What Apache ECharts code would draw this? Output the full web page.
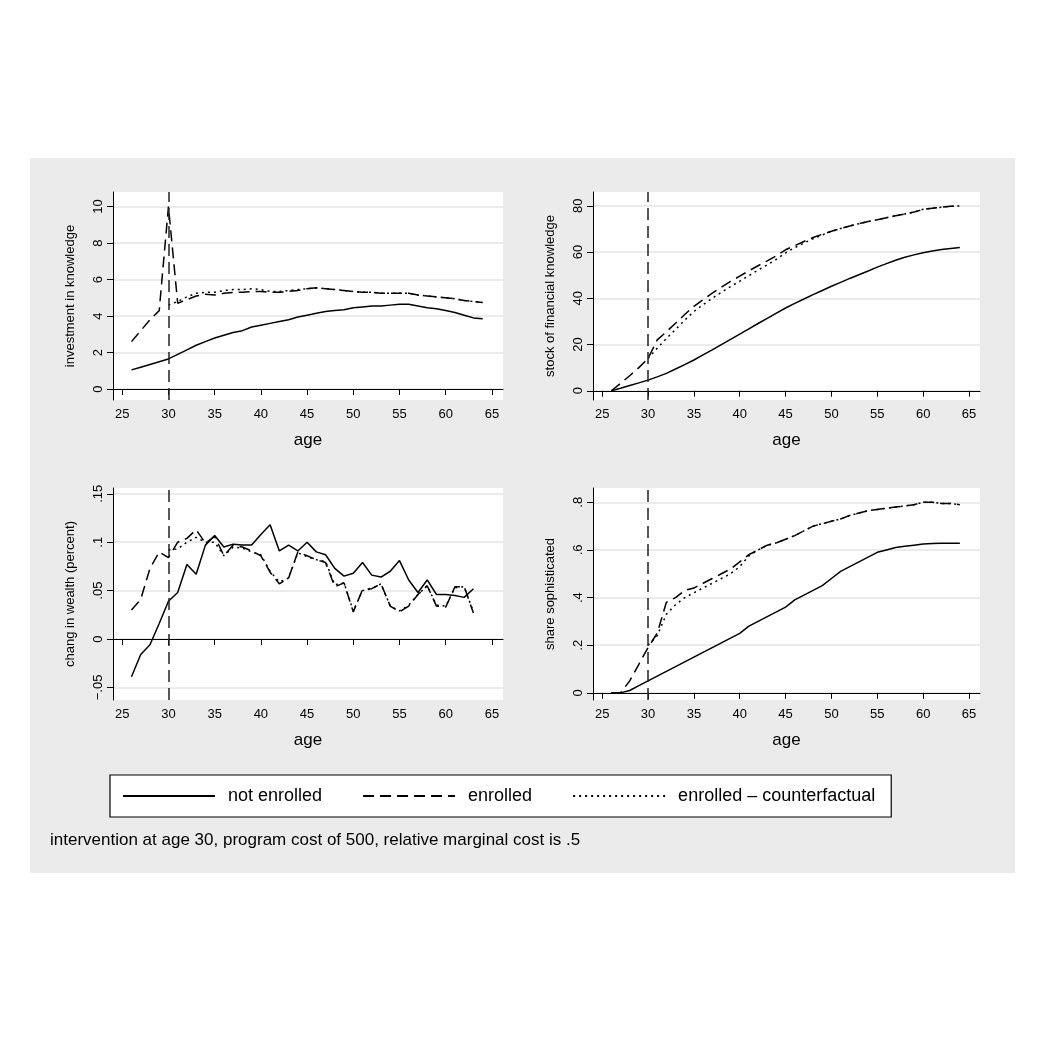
<!DOCTYPE html>
<html>
<head>
<meta charset="utf-8">
<script src="https://cdn.jsdelivr.net/npm/echarts@6/dist/echarts.min.js"></script>
<style>
html,body{margin:0;padding:0;background:#fff;}
#chart{width:1040px;height:1040px;}
</style>
</head>
<body>
<div id="chart"></div>
<script>
// ages
var ages = [];
for (var a = 26; a <= 64; a++) ages.push(a);
var ages3 = ages.slice(0, 38); // 26..63

// investment in knowledge
var invNot = [1.05,1.2,1.35,1.5,1.65,1.9,2.15,2.4,2.6,2.8,2.95,3.1,3.2,3.4,3.5,3.6,3.7,3.8,3.95,4.05,4.15,4.25,4.3,4.35,4.45,4.5,4.55,4.55,4.6,4.65,4.65,4.55,4.45,4.4,4.3,4.2,4.05,3.9,3.85];
var invEnr = [2.6,3.2,3.8,4.3,10,4.7,4.9,5.1,5.2,5.15,5.25,5.3,5.3,5.35,5.35,5.3,5.3,5.35,5.4,5.5,5.55,5.5,5.45,5.4,5.35,5.3,5.3,5.25,5.25,5.25,5.25,5.15,5.1,5.05,5.0,4.95,4.85,4.8,4.75];
var invCf  = [null,null,null,null,4.6,4.8,5.05,5.25,5.3,5.3,5.4,5.45,5.45,5.5,5.45,5.35,5.35,5.4,5.45,5.5,5.55,5.5,5.45,5.4,5.35,5.3,5.3,5.25,5.25,5.25,5.25,5.15,5.1,5.05,5.0,4.95,4.85,4.8,4.75];

// stock of financial knowledge
var stkNot = [0,1.1,2.3,3.4,4.6,6.0,7.5,9.4,11.3,13.3,15.5,17.7,20.0,22.2,24.5,26.8,29.1,31.3,33.6,35.8,37.8,39.7,41.6,43.4,45.2,46.9,48.6,50.2,51.8,53.5,55.0,56.5,57.8,58.8,59.7,60.5,61.1,61.6,62.0];
var stkEnr = [0,3.2,6.5,10.0,14.0,22.0,25.5,29.2,33.0,36.5,39.4,42.2,44.8,47.3,49.6,51.9,54.1,56.2,58.4,61.0,62.8,64.6,66.3,67.7,69.0,70.2,71.3,72.3,73.2,74.0,74.9,75.7,76.5,77.3,78.5,79.0,79.4,79.8,80.0];
var stkCf  = [null,null,null,null,14.0,18.4,22.6,26.5,30.5,34.3,37.2,40.0,42.6,45.1,47.4,49.8,52.2,54.5,56.9,59.7,61.9,63.9,65.8,67.4,69.0,70.2,71.3,72.3,73.2,74.0,74.9,75.7,76.5,77.3,78.5,79.0,79.4,79.8,80.0];

// change in wealth (ages 26..63)
var wNot = [-0.039,-0.016,-0.006,0.016,0.039,0.048,0.077,0.067,0.097,0.107,0.095,0.098,0.097,0.097,0.108,0.118,0.091,0.097,0.091,0.1,0.09,0.087,0.073,0.065,0.068,0.079,0.066,0.064,0.07,0.081,0.061,0.048,0.061,0.046,0.046,0.045,0.043,0.052];
var wEnr = [0.03,0.041,0.073,0.09,0.084,0.1,0.104,0.113,0.099,0.106,0.086,0.097,0.095,0.091,0.086,0.069,0.057,0.063,0.09,0.086,0.082,0.079,0.054,0.058,0.028,0.051,0.052,0.057,0.034,0.028,0.034,0.046,0.055,0.034,0.033,0.054,0.054,0.027];
var wCf  = [null,null,null,null,0.092,0.093,0.1,0.105,0.1,0.1,0.086,0.095,0.094,0.09,0.087,0.07,0.059,0.063,0.089,0.085,0.082,0.08,0.056,0.058,0.029,0.05,0.052,0.057,0.034,0.029,0.035,0.046,0.055,0.035,0.034,0.053,0.054,0.028];

// share sophisticated
var shNot = [0,0,0.01,0.03,0.05,0.07,0.09,0.11,0.13,0.15,0.17,0.19,0.21,0.23,0.25,0.28,0.3,0.32,0.34,0.36,0.39,0.41,0.43,0.45,0.48,0.51,0.53,0.55,0.57,0.59,0.6,0.61,0.615,0.62,0.625,0.627,0.628,0.628,0.628];
var shEnr = [0,0,0.05,0.12,0.19,0.25,0.38,0.4,0.43,0.44,0.46,0.48,0.5,0.52,0.55,0.58,0.6,0.62,0.63,0.645,0.66,0.68,0.7,0.71,0.72,0.73,0.745,0.755,0.765,0.77,0.775,0.78,0.785,0.79,0.8,0.8,0.795,0.795,0.79];
var shCf  = [null,null,null,null,0.2,0.24,0.33,0.37,0.4,0.42,0.44,0.46,0.48,0.5,0.53,0.575,0.6,0.62,0.63,0.645,0.66,0.68,0.7,0.71,0.72,0.73,0.745,0.755,0.765,0.77,0.775,0.78,0.785,0.79,0.8,0.8,0.795,0.795,0.79];

var xTicks = [25,30,35,40,45,50,55,60,65];
var fam = 'Liberation Sans, Arial, sans-serif';

var grids = [
  {left:113, top:192, width:390, height:208},
  {left:593, top:192, width:387, height:208},
  {left:113, top:488, width:390, height:212},
  {left:593, top:488, width:387, height:212}
];
var yDefs = [
  {min:-0.6, max:10.8, ticks:[0,2,4,6,8,10], name:'investment in knowledge', fmt:function(v){return String(v);}},
  {min:-4, max:86, ticks:[0,20,40,60,80], name:'stock of financial knowledge', fmt:function(v){return String(v);}},
  {min:-0.063, max:0.156, ticks:[-0.05,0,0.05,0.1,0.15], name:'chang in wealth (percent)', fmt:function(v){
      if (v === 0) return '0';
      var s = String(+v.toFixed(2)).replace('0.', '.');
      return s.replace('-', '\u2212');}},
  {min:-0.03, max:0.86, ticks:[0,0.2,0.4,0.6,0.8], name:'share sophisticated', fmt:function(v){
      return v === 0 ? '0' : String(+v.toFixed(1)).replace('0.', '.');}}
];

function pairs(xs, ys){
  var out = [];
  for (var i = 0; i < xs.length; i++) out.push([xs[i], ys[i]]);
  return out;
}

var xAxis = [], yAxis = [], series = [];
var panelData = [
  [ages, invNot, invEnr, invCf],
  [ages, stkNot, stkEnr, stkCf],
  [ages3, wNot, wEnr, wCf],
  [ages, shNot, shEnr, shCf]
];
for (var i = 0; i < 4; i++) {
  xAxis.push({
    type:'value', gridIndex:i, min:24, max:66.2,
    name:'age', nameLocation:'middle', nameGap:32,
    nameTextStyle:{color:'#000', fontSize:17, fontFamily:fam},
    axisLine:{show:true, lineStyle:{color:'#000'}},
    axisTick:{show:true, length:6, lineStyle:{color:'#000'}, customValues:xTicks},
    axisLabel:{color:'#000', fontSize:13, fontFamily:fam, customValues:xTicks},
    splitLine:{show:false}
  });
  var yd = yDefs[i];
  yAxis.push({
    type:'value', gridIndex:i, min:yd.min, max:yd.max,
    name:yd.name, nameLocation:'middle', nameGap:36,
    nameTextStyle:{color:'#000', fontSize:13, fontFamily:fam},
    axisLine:{show:true, lineStyle:{color:'#000'}},
    axisTick:{show:true, length:6, lineStyle:{color:'#000'}, customValues:yd.ticks},
    axisLabel:{color:'#000', fontSize:13, fontFamily:fam, rotate:90, customValues:yd.ticks, formatter:yd.fmt},
    splitLine:{show:true, lineStyle:{color:'#e4e4e4', width:1.5}, customValues:yd.ticks}
  });
  var d = panelData[i];
  series.push({
    name:'not enrolled', type:'line', xAxisIndex:i, yAxisIndex:i, showSymbol:false, symbol:'none',
    data:pairs(d[0], d[1]), lineStyle:{color:'#000', width:1.5}, itemStyle:{color:'#000'},
    markLine:{silent:true, symbol:'none', label:{show:false},
      lineStyle:{color:'#222', type:[12,6], width:1.5}, data:[{xAxis:30}]}
  });
  series.push({
    name:'enrolled', type:'line', xAxisIndex:i, yAxisIndex:i, showSymbol:false, symbol:'none',
    data:pairs(d[0], d[2]), lineStyle:{color:'#000', width:1.5, type:[11,6]}, itemStyle:{color:'#000'}
  });
  series.push({
    name:'enrolled \u2013 counterfactual', type:'line', xAxisIndex:i, yAxisIndex:i, showSymbol:false, symbol:'none',
    data:pairs(d[0], d[3]), lineStyle:{color:'#000', width:1.5, type:[2,4]}, itemStyle:{color:'#000'}
  });
}

var chart = echarts.init(document.getElementById('chart'));
chart.setOption({
  backgroundColor:'#fff',
  animation:false,
  graphic:[
    {type:'rect', z:-10, shape:{x:30, y:158, width:985, height:715}, style:{fill:'#ebebeb'}},
    {type:'rect', z:-9, shape:{x:113, y:192, width:390, height:208}, style:{fill:'#fff'}},
    {type:'rect', z:-9, shape:{x:593, y:192, width:387, height:208}, style:{fill:'#fff'}},
    {type:'rect', z:-9, shape:{x:113, y:488, width:390, height:212}, style:{fill:'#fff'}},
    {type:'rect', z:-9, shape:{x:593, y:488, width:387, height:212}, style:{fill:'#fff'}},
    {type:'text', left:50, top:832, style:{text:'intervention at age 30, program cost of 500, relative marginal cost is .5',
      fill:'#000', fontSize:17, fontFamily:fam}}
  ],
  legend:{
    left:110, top:775, width:800, height:32,
    padding:[12,16,12,12],
    backgroundColor:'#fff', borderColor:'#000', borderWidth:1.2,
    itemWidth:92, itemHeight:14, itemGap:40,
    itemStyle:{opacity:0},
    textStyle:{color:'#000', fontSize:18, fontFamily:fam, padding:[0,0,0,8]},
    data:['not enrolled','enrolled','enrolled \u2013 counterfactual']
  },
  grid:grids,
  xAxis:xAxis,
  yAxis:yAxis,
  series:series
});
</script>
</body>
</html>
